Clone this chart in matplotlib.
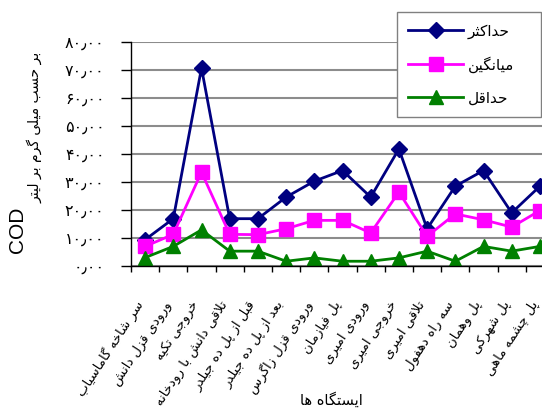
import numpy as np
import matplotlib
matplotlib.use("Agg")
import matplotlib.pyplot as plt

# Stations along the river (x axis) and COD values, in mg/l.

stations = ["سر شاخه گاماسیاب", "ورودی قزل دانش", "خروجی تکیه", "تلاقی دانش با رودخانه",
	"قبل از پل ده جیلدر", "بعد از پل ده جیلدر", "ورودی قزل زاگرس", "پل فیازمان",
	"ورودی امیری", "خروجی امیری", "تلاقی امیری", "سه راه دهفول",
	"پل وهمان", "پل شهرکی", "پل چشمه ماهی"]
cod_max = [9.4, 16.9, 70.7, 16.9, 16.9, 24.6, 30.3, 34.1, 24.6, 41.8, 13.3, 28.5, 34.1, 19.0, 28.5]
cod_mean = [7.0, 11.3, 33.5, 11.3, 11.2, 13.3, 16.3, 16.3, 11.8, 26.4, 10.6, 18.6, 16.5, 13.9, 19.8]
cod_min = [3.0, 7.0, 12.9, 5.3, 5.3, 1.7, 2.9, 1.7, 1.7, 2.9, 5.3, 1.7, 7.0, 5.3, 7.0]
series_names = ["حداکثر", "میانگین", "حداقل"]
y_ticks = [0, 10, 20, 30, 40, 50, 60, 70, 80]
y_tick_labels = ["۰٫۰۰", "۱۰٫۰۰", "۲۰٫۰۰", "۳۰٫۰۰", "۴۰٫۰۰", "۵۰٫۰۰", "۶۰٫۰۰", "۷۰٫۰۰", "۸۰٫۰۰"]
x_title = "ایستگاه ها"
y_title = "بر حسب میلی گرم بر لیتر"

# matplotlib has no arabic shaping, so letters are swapped for their presentation
# forms by hand: (isolated, final) for right joining letters, plus (initial, medial)
# for the ones that join on both sides.

FORMS = {
	'ا': (0xFE8D, 0xFE8E),
	'ب': (0xFE8F, 0xFE90, 0xFE91, 0xFE92),
	'پ': (0xFB56, 0xFB57, 0xFB58, 0xFB59),
	'ت': (0xFE95, 0xFE96, 0xFE97, 0xFE98),
	'ث': (0xFE99, 0xFE9A, 0xFE9B, 0xFE9C),
	'ج': (0xFE9D, 0xFE9E, 0xFE9F, 0xFEA0),
	'چ': (0xFB7A, 0xFB7B, 0xFB7C, 0xFB7D),
	'ح': (0xFEA1, 0xFEA2, 0xFEA3, 0xFEA4),
	'خ': (0xFEA5, 0xFEA6, 0xFEA7, 0xFEA8),
	'د': (0xFEA9, 0xFEAA),
	'ذ': (0xFEAB, 0xFEAC),
	'ر': (0xFEAD, 0xFEAE),
	'ز': (0xFEAF, 0xFEB0),
	'ژ': (0xFB8A, 0xFB8B),
	'س': (0xFEB1, 0xFEB2, 0xFEB3, 0xFEB4),
	'ش': (0xFEB5, 0xFEB6, 0xFEB7, 0xFEB8),
	'ع': (0xFEC9, 0xFECA, 0xFECB, 0xFECC),
	'ف': (0xFED1, 0xFED2, 0xFED3, 0xFED4),
	'ق': (0xFED5, 0xFED6, 0xFED7, 0xFED8),
	'ک': (0xFB8E, 0xFB8F, 0xFB90, 0xFB91),
	'گ': (0xFB92, 0xFB93, 0xFB94, 0xFB95),
	'ل': (0xFEDD, 0xFEDE, 0xFEDF, 0xFEE0),
	'م': (0xFEE1, 0xFEE2, 0xFEE3, 0xFEE4),
	'ن': (0xFEE5, 0xFEE6, 0xFEE7, 0xFEE8),
	'و': (0xFEED, 0xFEEE),
	'ه': (0xFEE9, 0xFEEA, 0xFEEB, 0xFEEC),
	'ی': (0xFBFC, 0xFBFD, 0xFBFE, 0xFBFF),
}

def shape(text):
	lines = []
	for line in text.split('\n'):
		out = []
		i = 0
		while i < len(line):
			ch = line[i]
			if ch not in FORMS:
				out.append(ch)
				i += 1
				continue
			prev = line[i - 1] if i > 0 else ''
			joins_prev = prev in FORMS and len(FORMS[prev]) == 4
			# lam + alef becomes one ligature
			if ch == 'ل' and i + 1 < len(line) and line[i + 1] == 'ا':
				out.append(chr(0xFEFC if joins_prev else 0xFEFB))
				i += 2
				continue
			nxt = line[i + 1] if i + 1 < len(line) else ''
			forms = FORMS[ch]
			joins_next = len(forms) == 4 and nxt in FORMS
			if joins_prev and joins_next:
				out.append(chr(forms[3]))
			elif joins_prev:
				out.append(chr(forms[1]))
			elif joins_next:
				out.append(chr(forms[2]))
			else:
				out.append(chr(forms[0]))
			i += 1
		# right to left: reverse for display
		lines.append(''.join(reversed(out)))
	return '\n'.join(lines)

plt.rcParams['font.family'] = ['DejaVu Sans']

fig = plt.figure(figsize=(5.42, 4.16), dpi=100)
ax = fig.add_axes([131 / 542, 150 / 416, 423 / 542, 224 / 416])

x = np.arange(len(stations))
ax.plot(x, cod_max, color='#000080', linewidth=2, marker='D', markersize=8.5, label=shape(series_names[0]))
ax.plot(x, cod_mean, color='#FF00FF', linewidth=2, marker='s', markersize=10.5, label=shape(series_names[1]))
ax.plot(x, cod_min, color='#008000', linewidth=2, marker='^', markersize=10, label=shape(series_names[2]))

ax.set_xlim(-0.5, len(stations) - 0.5)
ax.set_ylim(0, 80)
ax.set_yticks(y_ticks)
ax.set_yticklabels(y_tick_labels, fontsize=11.5)
# the slanted labels hang a little left of each point (major ticks are hidden)
ax.set_xticks(x - 0.17)
ax.set_xticklabels([shape(s) for s in stations], rotation=57, ha='right', va='center',
	rotation_mode='anchor', fontsize=9.5)
ax.set_xticks(np.arange(-0.5, len(stations), 1), minor=True)
ax.tick_params(axis='x', which='major', length=0, pad=26)
ax.tick_params(axis='x', which='minor', length=4, width=1, direction='out')
ax.tick_params(axis='y', length=7, width=1, direction='out', pad=12)

ax.yaxis.grid(True, color='#8c8c8c', linewidth=1.5)
ax.set_axisbelow(True)
for side in ['top', 'right']:
	ax.spines[side].set_visible(False)
for side in ['left', 'bottom']:
	ax.spines[side].set_linewidth(1)

fig.text(17.5 / 542, 1 - 253 / 416, 'COD', rotation=90, ha='center', va='bottom',
	fontsize=15, family='Liberation Sans')
fig.text(35 / 542, 1 - 203 / 416, shape(y_title), rotation=90, ha='center', va='bottom', fontsize=10)
fig.text(331 / 542, 1 - 400 / 416, shape(x_title), ha='center', va='center', fontsize=10.5)

# legend box stretched to the width seen in the picture
leg = ax.legend(loc='upper left', bbox_to_anchor=(397 / 542, 1 - 116 / 416, 144 / 542, 104 / 416),
	bbox_transform=fig.transFigure, mode='expand', borderaxespad=0, fancybox=False,
	edgecolor='#808080', framealpha=1, handlelength=3.6, handletextpad=0.3,
	labelspacing=1.15, borderpad=0.75, fontsize=11)
leg.get_frame().set_linewidth(1)

fig.savefig('out.png', dpi=100)
